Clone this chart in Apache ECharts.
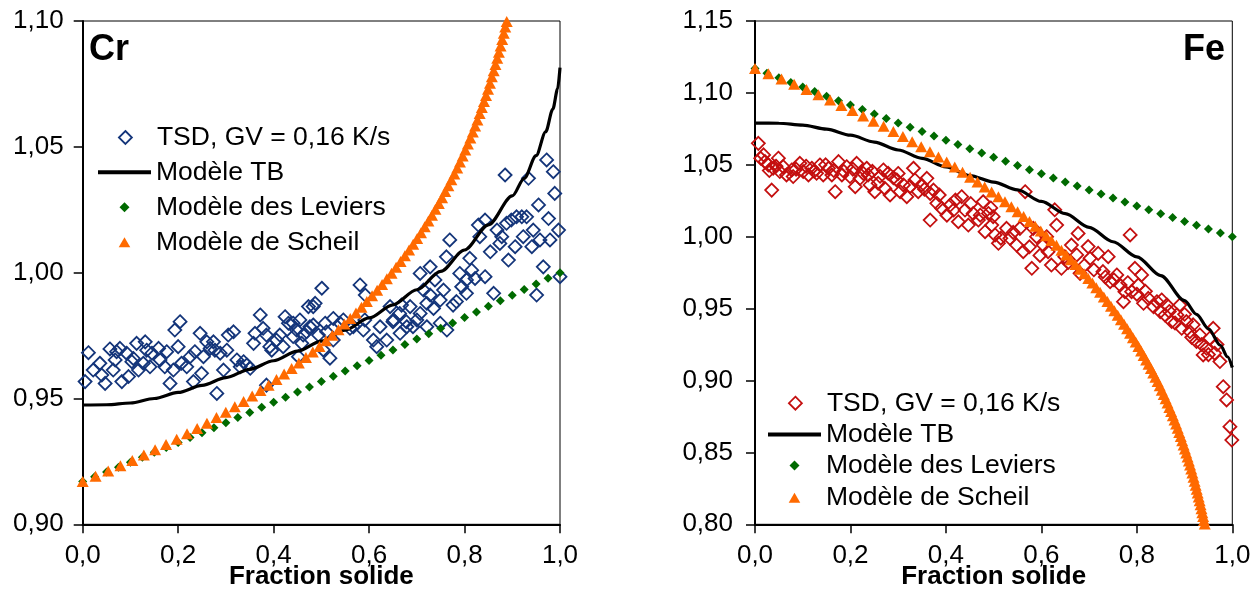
<!DOCTYPE html>
<html>
<head>
<meta charset="utf-8">
<script src="https://cdn.jsdelivr.net/npm/echarts@6/dist/echarts.min.js"></script>
<style>
html,body{margin:0;padding:0;background:#fff;}
#chart{width:1260px;height:591px;}
</style>
</head>
<body>
<div id="chart"></div>
<script>
// ---------------- DATA ----------------
const legendNames = ['TSD, GV = 0,16 K/s', 'Modèle TB', 'Modèle des Leviers', 'Modèle de Scheil'];
const panelTitles = ['Cr', 'Fe'];
const xAxisName = 'Fraction solide';
const xRange = [0, 1, 0.2];
const crYRange = [0.90, 1.10, 0.05];
const feYRange = [0.80, 1.15, 0.05];

// Cr – measured TSD points [fraction solide, value]
const crTsd = [
[0.012,0.9682],[0.005,0.9567],[0.036,0.9640],[0.022,0.9613],[0.040,0.9593],[0.047,0.9560],[0.057,0.9697],[0.071,0.9686],
[0.078,0.9699],[0.064,0.9613],[0.068,0.9653],[0.082,0.9567],[0.092,0.9680],[0.096,0.9587],[0.103,0.9646],[0.113,0.9719],
[0.106,0.9659],[0.117,0.9613],[0.131,0.9725],[0.134,0.9692],[0.127,0.9640],[0.141,0.9626],[0.145,0.9680],[0.159,0.9699],
[0.162,0.9653],[0.172,0.9626],[0.183,0.9560],[0.176,0.9686],[0.193,0.9772],[0.204,0.9805],[0.200,0.9706],[0.190,0.9613],
[0.207,0.9640],[0.218,0.9626],[0.225,0.9666],[0.235,0.9686],[0.232,0.9567],[0.246,0.9759],[0.249,0.9600],[0.253,0.9666],
[0.260,0.9725],[0.267,0.9699],[0.274,0.9725],[0.277,0.9692],[0.281,0.9520],[0.288,0.9680],[0.295,0.9613],[0.302,0.9692],
[0.305,0.9752],[0.316,0.9765],[0.323,0.9653],[0.330,0.9626],[0.337,0.9646],[0.344,0.9633],[0.351,0.9620],[0.358,0.9719],
[0.361,0.9759],[0.372,0.9832],[0.378,0.9779],[0.385,0.9752],[0.392,0.9706],[0.396,0.9692],[0.406,0.9732],[0.413,0.9752],
[0.420,0.9706],[0.424,0.9825],[0.431,0.9799],[0.441,0.9746],[0.448,0.9772],[0.455,0.9812],[0.459,0.9719],[0.469,0.9765],
[0.473,0.9865],[0.483,0.9792],[0.487,0.9878],[0.494,0.9752],[0.501,0.9938],[0.508,0.9799],[0.511,0.9765],[0.452,0.9666],
[0.385,0.9553],[0.441,0.9799],[0.462,0.9752],[0.476,0.9785],[0.504,0.9693],[0.518,0.9660],[0.525,0.9732],[0.539,0.9799],
[0.560,0.9779],[0.591,0.9812],[0.609,0.9732],[0.616,0.9706],[0.623,0.9785],[0.637,0.9732],[0.651,0.9812],[0.665,0.9759],
[0.679,0.9785],[0.700,0.9812],[0.721,0.9785],[0.749,0.9799],[0.763,0.9772],[0.483,0.9865],[0.581,0.9951],[0.592,0.9911],
[0.525,0.9818],[0.546,0.9812],[0.567,0.9785],[0.588,0.9772],[0.644,0.9865],[0.668,0.9871],[0.686,0.9865],[0.664,0.9838],
[0.650,0.9805],[0.678,0.9805],[0.692,0.9785],[0.707,0.9997],[0.728,1.0023],[0.738,0.9971],[0.714,0.9931],[0.728,0.9911],
[0.756,0.9931],[0.749,0.9891],[0.721,0.9878],[0.707,0.9838],[0.735,0.9858],[0.769,1.0130],[0.762,1.0063],[0.783,0.9885],
[0.776,0.9871],[0.790,0.9997],[0.794,0.9944],[0.804,0.9918],[0.811,1.0057],[0.815,1.0010],[0.804,0.9971],[0.829,1.0189],
[0.843,1.0209],[0.822,0.9977],[0.843,0.9984],[0.832,1.0143],[0.854,1.0083],[0.868,1.0169],[0.861,0.9918],[0.878,1.0143],
[0.874,1.0116],[0.885,1.0388],[0.888,1.0196],[0.892,1.0050],[0.898,1.0209],[0.906,1.0103],[0.909,1.0222],[0.920,1.0222],
[0.930,1.0222],[0.934,1.0375],[0.923,1.0143],[0.941,1.0103],[0.944,1.0169],[0.951,0.9911],[0.955,1.0269],[0.958,1.0130],
[0.965,1.0023],[0.972,1.0448],[0.976,1.0215],[0.979,1.0130],[0.986,1.0401],[0.989,1.0315],[0.997,1.0169],[1.000,0.9984]
];

// Cr – Modèle TB (line)
const crTbX = [0,0.05,0.1,0.15,0.2,0.25,0.3,0.35,0.4,0.45,0.5,0.55,0.6,0.65,0.7,0.75,0.8,0.85,0.9,0.925,0.95,0.97,0.985,0.995,1.0];
const crTbY = [0.9474,0.9475,0.9482,0.9500,0.9524,0.9552,0.9583,0.9616,0.9650,0.9688,0.9728,0.9772,0.9820,0.9872,0.9932,1.0005,1.0090,1.0190,1.0305,1.0375,1.0465,1.0560,1.0650,1.0730,1.0815];

// Cr – Modèle des Leviers
const crLevX = [0,0.025,0.05,0.075,0.1,0.125,0.15,0.175,0.2,0.225,0.25,0.275,0.3,0.325,0.35,0.375,0.4,0.425,0.45,0.475,0.5,0.525,0.55,0.575,0.6,0.625,0.65,0.675,0.7,0.725,0.75,0.775,0.8,0.825,0.85,0.875,0.9,0.925,0.95,0.975,1.0];
const crLevY = [0.9170,0.9189,0.9208,0.9227,0.9247,0.9266,0.9286,0.9305,0.9325,0.9345,0.9364,0.9384,0.9404,0.9424,0.9444,0.9465,0.9485,0.9505,0.9526,0.9546,0.9567,0.9588,0.9609,0.9630,0.9651,0.9672,0.9693,0.9714,0.9736,0.9757,0.9779,0.9800,0.9822,0.9844,0.9866,0.9888,0.9910,0.9933,0.9955,0.9978,1.0000];

// Cr – Modèle de Scheil
const crSchX = [0,0.0270,0.0534,0.0790,0.1039,0.1281,0.1517,0.1746,0.1969,0.2186,0.2398,0.2603,0.2803,0.2998,0.3187,0.3371,0.3551,0.3725,0.3895,0.4060,0.4220,0.4377,0.4529,0.4677,0.4821,0.4961,0.5097,0.5230,0.5359,0.5484,0.5606,0.5725,0.5841,0.5953,0.6063,0.6169,0.6273,0.6373,0.6471,0.6567,0.6660,0.6750,0.6838,0.6924,0.7007,0.7088,0.7166,0.7243,0.7318,0.7390,0.7461,0.7529,0.7596,0.7661,0.7724,0.7786,0.7846,0.7904,0.7961,0.8016,0.8070,0.8122,0.8173,0.8222,0.8270,0.8317,0.8362,0.8407,0.8450,0.8492,0.8533,0.8572,0.8611,0.8648,0.8685,0.8720,0.8755,0.8789,0.8822,0.8853,0.8884];
const crSchY = [0.9170,0.9191,0.9212,0.9233,0.9254,0.9275,0.9296,0.9317,0.9338,0.9360,0.9381,0.9402,0.9424,0.9445,0.9467,0.9488,0.9510,0.9532,0.9553,0.9575,0.9597,0.9619,0.9641,0.9663,0.9685,0.9707,0.9729,0.9751,0.9773,0.9796,0.9818,0.9840,0.9863,0.9885,0.9908,0.9930,0.9953,0.9976,0.9998,1.0021,1.0044,1.0067,1.0090,1.0113,1.0136,1.0159,1.0182,1.0205,1.0228,1.0252,1.0275,1.0298,1.0322,1.0345,1.0369,1.0392,1.0416,1.0440,1.0464,1.0487,1.0511,1.0535,1.0559,1.0583,1.0607,1.0632,1.0656,1.0680,1.0704,1.0729,1.0753,1.0778,1.0802,1.0827,1.0852,1.0876,1.0901,1.0926,1.0951,1.0976,1.0998];

// Fe – measured TSD points
const feTsd = [
[0.007,1.0649],[0.018,1.0569],[0.021,1.0522],[0.028,1.0499],[0.035,1.0324],[0.038,1.0476],[0.049,1.0546],[0.052,1.0453],
[0.059,1.0487],[0.066,1.0429],[0.077,1.0464],[0.080,1.0418],[0.094,1.0510],[0.101,1.0453],[0.112,1.0429],[0.119,1.0476],
[0.129,1.0441],[0.136,1.0499],[0.143,1.0429],[0.154,1.0476],[0.161,1.0429],[0.168,1.0313],[0.175,1.0522],[0.182,1.0429],
[0.192,1.0487],[0.199,1.0418],[0.210,1.0348],[0.213,1.0510],[0.220,1.0406],[0.234,1.0476],[0.237,1.0429],[0.241,1.0360],
[0.251,1.0313],[0.258,1.0371],[0.269,1.0464],[0.272,1.0336],[0.279,1.0441],[0.283,1.0290],[0.297,1.0395],[0.304,1.0313],
[0.311,1.0360],[0.318,1.0278],[0.332,1.0476],[0.335,1.0395],[0.342,1.0313],[0.349,1.0360],[0.360,1.0406],[0.367,1.0301],
[0.374,1.0324],[0.381,1.0232],[0.391,1.0197],[0.367,1.0116],[0.402,1.0150],[0.409,1.0220],[0.416,1.0185],[0.426,1.0104],
[0.433,1.0278],[0.440,1.0185],[0.447,1.0081],[0.457,1.0162],[0.468,1.0116],[0.478,1.0243],[0.482,1.0035],[0.489,1.0162],
[0.496,1.0081],[0.503,1.0012],[0.510,0.9954],
[0.012,1.0545],[0.030,1.0460],[0.044,1.0490],[0.086,1.0470],[0.107,1.0490],[0.124,1.0455],[0.148,1.0500],[0.165,1.0460],
[0.186,1.0455],[0.205,1.0470],[0.227,1.0440],[0.246,1.0455],[0.262,1.0420],[0.290,1.0410],[0.300,1.0440],[0.325,1.0350],
[0.355,1.0330],[0.386,1.0290],[0.420,1.0255],[0.452,1.0230],[0.472,1.0150],[0.494,1.0200],
[0.566,1.0313],[0.499,1.0139],[0.527,1.0058],[0.534,0.9989],[0.548,0.9942],[0.555,1.0058],[0.562,0.9896],[0.583,1.0058],
[0.590,1.0000],[0.604,0.9942],[0.614,0.9896],[0.621,0.9803],[0.580,0.9780],[0.628,1.0187],[0.632,1.0081],[0.642,0.9780],
[0.649,0.9861],[0.663,0.9942],[0.677,1.0023],[0.674,0.9873],[0.681,0.9745],[0.698,0.9931],[0.702,0.9850],[0.719,0.9884],
[0.729,0.9757],[0.740,0.9861],[0.744,0.9687],[0.758,0.9734],[0.765,0.9664],[0.772,0.9548],[0.775,0.9618],[0.786,1.0012],
[0.789,0.9618],[0.796,0.9780],[0.803,0.9664],[0.810,0.9734],[0.814,0.9537],[0.824,0.9571],[0.835,0.9513],[0.842,0.9548],
[0.849,0.9479],[0.859,0.9456],[0.863,0.9525],[0.873,0.9410],[0.884,0.9456],[0.890,0.9525],[0.894,0.9363],[0.904,0.9410],
[0.911,0.9340],[0.918,0.9387],[0.925,0.9271],[0.932,0.9317],[0.939,0.9178],[0.946,0.9224],[0.953,0.9294],[0.960,0.9363],
[0.963,0.9190],[0.974,0.9132],[0.981,0.8957],[0.988,0.8865],[0.995,0.8679],[0.999,0.8586],
[0.515,0.9990],[0.541,1.0030],[0.575,0.9930],[0.597,0.9870],[0.611,1.0000],[0.656,0.9820],[0.690,0.9800],[0.710,0.9770],
[0.734,0.9720],[0.752,0.9700],[0.781,0.9680],[0.800,0.9600],[0.818,0.9620],[0.852,0.9560],[0.868,0.9480],[0.880,0.9400],
[0.900,0.9460],[0.915,0.9300],[0.936,0.9250],[0.950,0.9180],[0.968,0.9250]
];

// Fe – Modèle TB
const feTbX = [0,0.05,0.1,0.15,0.2,0.25,0.3,0.35,0.4,0.45,0.5,0.55,0.6,0.65,0.7,0.75,0.8,0.85,0.9,0.925,0.95,0.975,0.99,1.0];
const feTbY = [1.0790,1.0789,1.0776,1.0748,1.0706,1.0658,1.0603,1.0545,1.0485,1.0425,1.0380,1.0325,1.0245,1.0160,1.0065,0.9965,0.9860,0.9730,0.9555,0.9460,0.9360,0.9245,0.9165,0.9090];

// Fe – Modèle des Leviers
const feLevX = [0,0.025,0.05,0.075,0.1,0.125,0.15,0.175,0.2,0.225,0.25,0.275,0.3,0.325,0.35,0.375,0.4,0.425,0.45,0.475,0.5,0.525,0.55,0.575,0.6,0.625,0.65,0.675,0.7,0.725,0.75,0.775,0.8,0.825,0.85,0.875,0.9,0.925,0.95,0.975,1.0];
const feLevY = [1.1170,1.1137,1.1105,1.1073,1.1041,1.1009,1.0977,1.0946,1.0915,1.0884,1.0853,1.0822,1.0791,1.0761,1.0731,1.0701,1.0671,1.0641,1.0611,1.0582,1.0553,1.0524,1.0495,1.0466,1.0437,1.0409,1.0381,1.0353,1.0324,1.0297,1.0269,1.0241,1.0214,1.0187,1.0160,1.0133,1.0106,1.0079,1.0053,1.0026,1.0000];

// Fe – Modèle de Scheil
const feSchX = [0,0.0281,0.0555,0.0820,0.1079,0.1329,0.1573,0.1810,0.2041,0.2265,0.2482,0.2694,0.2899,0.3099,0.3293,0.3482,0.3665,0.3843,0.4016,0.4185,0.4348,0.4507,0.4662,0.4812,0.4958,0.5100,0.5237,0.5371,0.5502,0.5628,0.5751,0.5871,0.5987,0.6100,0.6209,0.6316,0.6420,0.6520,0.6618,0.6713,0.6806,0.6896,0.6983,0.7068,0.7150,0.7230,0.7308,0.7384,0.7458,0.7529,0.7599,0.7666,0.7732,0.7796,0.7858,0.7918,0.7976,0.8033,0.8089,0.8142,0.8195,0.8245,0.8295,0.8343,0.8389,0.8435,0.8479,0.8521,0.8563,0.8603,0.8643,0.8681,0.8718,0.8754,0.8789,0.8823,0.8856,0.8888,0.8920,0.8950,0.8980,0.9008,0.9036,0.9063,0.9090,0.9115,0.9140,0.9164,0.9188,0.9211,0.9233,0.9254,0.9275,0.9296,0.9316,0.9335,0.9354,0.9372,0.9389,0.9407,0.9423];
const feSchY = [1.1170,1.1133,1.1097,1.1060,1.1023,1.0987,1.0950,1.0913,1.0877,1.0840,1.0803,1.0768,1.0732,1.0697,1.0661,1.0626,1.0591,1.0555,1.0520,1.0484,1.0449,1.0414,1.0380,1.0346,1.0311,1.0277,1.0243,1.0208,1.0174,1.0140,1.0106,1.0072,1.0039,1.0006,0.9973,0.9940,0.9906,0.9873,0.9840,0.9807,0.9774,0.9742,0.9710,0.9678,0.9645,0.9613,0.9581,0.9549,0.9517,0.9485,0.9453,0.9422,0.9391,0.9360,0.9329,0.9298,0.9267,0.9236,0.9205,0.9174,0.9143,0.9113,0.9083,0.9053,0.9023,0.8993,0.8963,0.8933,0.8903,0.8873,0.8843,0.8813,0.8784,0.8755,0.8726,0.8697,0.8668,0.8639,0.8610,0.8581,0.8552,0.8524,0.8496,0.8468,0.8440,0.8412,0.8384,0.8356,0.8328,0.8300,0.8272,0.8244,0.8217,0.8190,0.8163,0.8136,0.8109,0.8081,0.8054,0.8027,0.8002];

// ---------------- CHART ----------------
const FONT = "'Liberation Sans', Arial, Helvetica, sans-serif";
const NAVY = '#14357A';
const RED = '#C40F0F';
const GREEN = '#006A00';
const ORANGE = '#FF6A00';
const zip = (xs, ys) => xs.map((x, i) => [x, ys[i]]);
const fmt = d => v => v.toFixed(d).replace('.', ',');

function xAxisFor(gi) {
  return {
    gridIndex: gi, type: 'value', min: xRange[0], max: xRange[1], interval: xRange[2],
    axisLine: { show: true, onZero: false, lineStyle: { color: '#000', width: 2 } },
    axisTick: { show: true, inside: false, length: 9, lineStyle: { color: '#000', width: 1.5 } },
    axisLabel: { margin: 19, fontSize: 26, color: '#000', fontFamily: FONT, formatter: fmt(1), showMinLabel: true, showMaxLabel: true },
    splitLine: { show: false },
    name: xAxisName, nameLocation: 'middle', nameGap: 40, nameMoveOverlap: false,
    nameTextStyle: { fontSize: 26, fontWeight: 'bold', color: '#000', fontFamily: FONT }
  };
}
function yAxisFor(gi, r, margin) {
  return {
    gridIndex: gi, type: 'value', min: r[0], max: r[1], interval: r[2],
    axisLine: { show: true, onZero: false, lineStyle: { color: '#000', width: 2 } },
    axisTick: { show: true, inside: false, length: 9, lineStyle: { color: '#000', width: 1.5 } },
    axisLabel: { margin: margin, fontSize: 26, color: '#000', fontFamily: FONT, formatter: fmt(2), showMinLabel: true, showMaxLabel: true },
    splitLine: { show: false }
  };
}

const diamondPath = 'path://M0,-10L10,0L0,10L-10,0Z';
const trianglePath = 'path://M0,-10L11,9L-11,9Z';

function seriesFor(prefix, gi, tsd, tbX, tbY, levX, levY, schX, schY, tsdColor) {
  return [
    { name: prefix + legendNames[0], type: 'scatter', xAxisIndex: gi, yAxisIndex: gi, data: tsd,
      symbol: 'diamond', symbolSize: 13, z: 2,
      itemStyle: { color: 'rgba(255,255,255,0)', borderColor: tsdColor, borderWidth: 1.8, opacity: 1 } },
    { name: prefix + legendNames[1], type: 'line', xAxisIndex: gi, yAxisIndex: gi, data: zip(tbX, tbY),
      symbol: 'none', smooth: 0.3, smoothMonotone: 'x', z: 3,
      itemStyle: { color: '#000' }, lineStyle: { color: '#000', width: 3.2 } },
    { name: prefix + legendNames[2], type: 'scatter', xAxisIndex: gi, yAxisIndex: gi, data: zip(levX, levY),
      symbol: 'diamond', symbolSize: 9, z: 4, itemStyle: { color: GREEN, opacity: 1 } },
    { name: prefix + legendNames[3], type: 'scatter', xAxisIndex: gi, yAxisIndex: gi, data: zip(schX, schY),
      symbol: 'triangle', symbolSize: [12, 11], z: 5, itemStyle: { color: ORANGE, opacity: 1 } }
  ];
}

// lineLeft = left end of the legend line sample; icons are centred in a 53px slot
function legendRow(prefix, idx, lineLeft, centerY, tsdColor) {
  const slot = 53;
  const base = {
    top: centerY - 13, orient: 'horizontal', padding: 0,
    itemWidth: slot, itemGap: 0,
    textStyle: { fontSize: 26.5, lineHeight: 26, color: '#000', fontFamily: FONT },
    formatter: n => n.slice(prefix.length),
    selectedMode: false
  };
  const name = prefix + legendNames[idx];
  if (idx === 0) {
    base.itemHeight = 13;
    base.left = lineLeft + (slot - 13) / 2;
    base.data = [{ name, icon: diamondPath, itemStyle: { color: 'rgba(255,255,255,0)', borderColor: tsdColor, borderWidth: 1.8, opacity: 1 } }];
  } else if (idx === 1) {
    base.itemHeight = 4;
    base.left = lineLeft;
    base.data = [{ name, icon: 'rect', itemStyle: { color: '#000', borderWidth: 0, opacity: 1 } }];
  } else if (idx === 2) {
    base.itemHeight = 10;
    base.left = lineLeft + (slot - 10) / 2;
    base.data = [{ name, icon: diamondPath, itemStyle: { color: GREEN, borderWidth: 0, opacity: 1 } }];
  } else {
    base.itemHeight = 10;
    base.left = lineLeft + (slot - 11.6) / 2;
    base.data = [{ name, icon: trianglePath, itemStyle: { color: ORANGE, borderWidth: 0, opacity: 1 } }];
  }
  return base;
}

const leftRows = [137, 171.7, 206.7, 241.7];
const rightRows = [402.7, 434, 465, 497.3];

const option = {
  animation: false,
  backgroundColor: '#fff',
  title: [
    { text: panelTitles[0], left: 89, top: 32, padding: 0,
      textStyle: { fontSize: 36, lineHeight: 36, fontWeight: 'bold', color: '#000', fontFamily: FONT } },
    { text: panelTitles[1], right: 35, top: 32, padding: 0,
      textStyle: { fontSize: 36, lineHeight: 36, fontWeight: 'bold', color: '#000', fontFamily: FONT } }
  ],
  grid: [
    { left: 82.7, top: 21, width: 477.3, height: 503.3, show: true, borderColor: '#000', borderWidth: 1, backgroundColor: 'rgba(0,0,0,0)', containLabel: false, outerBoundsMode: 'none' },
    { left: 755, top: 21, width: 477.3, height: 503.3, show: true, borderColor: '#000', borderWidth: 1, backgroundColor: 'rgba(0,0,0,0)', containLabel: false, outerBoundsMode: 'none' }
  ],
  xAxis: [xAxisFor(0), xAxisFor(1)],
  yAxis: [yAxisFor(0, crYRange, 19), yAxisFor(1, feYRange, 22)],
  legend: [
    ...leftRows.map((c, i) => legendRow('Cr: ', i, 98, c, NAVY)),
    ...rightRows.map((c, i) => legendRow('Fe: ', i, 768, c, RED))
  ],
  series: [
    ...seriesFor('Cr: ', 0, crTsd, crTbX, crTbY, crLevX, crLevY, crSchX, crSchY, NAVY),
    ...seriesFor('Fe: ', 1, feTsd, feTbX, feTbY, feLevX, feLevY, feSchX, feSchY, RED)
  ]
};

const chart = echarts.init(document.getElementById('chart'), null, { renderer: 'canvas' });
chart.setOption(option);
</script>
</body>
</html>
